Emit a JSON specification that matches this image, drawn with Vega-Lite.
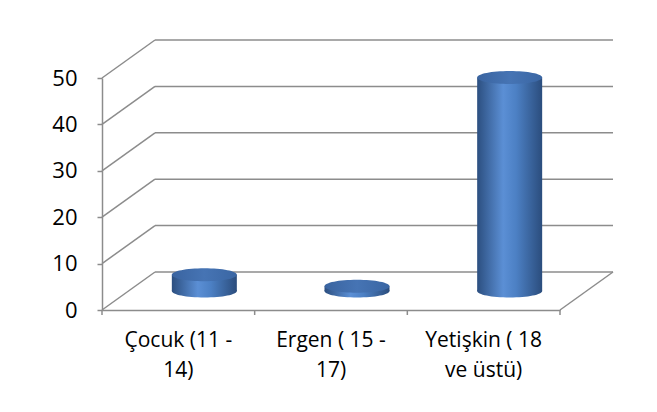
{
  "$schema": "https://vega.github.io/schema/vega-lite/v6.json",
  "width": 458,
  "height": 232,
  "autosize": "none",
  "padding": {"left": 102, "top": 78, "right": 97, "bottom": 102},
  "background": "white",
  "config": {"view": {"stroke": null}, "font": "Open Sans"},
  "data": {"values": [
    {"grup": "Çocuk (11 - 14)", "etiket": ["Çocuk (11 -", "14)"], "deger": 3.5},
    {"grup": "Ergen ( 15 - 17)", "etiket": ["Ergen ( 15 -", "17)"], "deger": 1},
    {"grup": "Yetişkin ( 18 ve üstü)", "etiket": ["Yetişkin ( 18", "ve üstü)"], "deger": 46}
  ]},
  "datasets": {"grid": [{"v": 0}, {"v": 10}, {"v": 20}, {"v": 30}, {"v": 40}, {"v": 50}]},
  "layer": [
    {
      "data": {"name": "grid"},
      "mark": {"type": "rule", "color": "#8c8c8c", "strokeWidth": 1.5, "x2Offset": 53, "y2Offset": -38},
      "encoding": {
        "x": {"value": 0}, "x2": {"value": 0},
        "y": {"field": "v", "type": "quantitative", "scale": {"domain": [0, 50]}},
        "y2": {"field": "v"}
      }
    },
    {
      "data": {"name": "grid"},
      "mark": {"type": "rule", "color": "#8c8c8c", "strokeWidth": 1.5, "xOffset": 53, "x2Offset": 53, "yOffset": -38},
      "encoding": {
        "x": {"value": 0}, "x2": {"value": "width"},
        "y": {"field": "v", "type": "quantitative"}
      }
    },
    {
      "data": {"values": [{"v": 0}]},
      "mark": {"type": "rule", "color": "#8c8c8c", "strokeWidth": 1.5, "x2Offset": 53, "y2Offset": -38},
      "encoding": {
        "x": {"value": "width"}, "x2": {"value": "width"},
        "y": {"field": "v", "type": "quantitative"},
        "y2": {"field": "v"}
      }
    },
    {
      "mark": {"type": "rule", "color": "#8c8c8c", "strokeWidth": 1.5, "y2Offset": 5},
      "encoding": {
        "x": {"field": "grup", "type": "nominal", "sort": null, "bandPosition": 0},
        "y": {"datum": 0, "type": "quantitative"},
        "y2": {"datum": 0}
      }
    },
    {
      "data": {"values": [{"v": 0}]},
      "mark": {"type": "rule", "color": "#8c8c8c", "strokeWidth": 1.5, "y2Offset": 5},
      "encoding": {
        "x": {"value": "width"},
        "y": {"field": "v", "type": "quantitative"},
        "y2": {"field": "v"}
      }
    },
    {
      "mark": {"type": "point", "filled": true, "opacity": 1, "size": 4225, "xOffset": 26, "yOffset": -19,
        "shape": "M-1,0A1,0.2 0 1,1 1,0A1,0.2 0 1,1 -1,0Z",
        "color": {"gradient": "linear", "x1": 0, "x2": 1, "y1": 0, "y2": 0,
          "stops": [{"offset": 0, "color": "#2c4f80"}, {"offset": 0.4, "color": "#5b8fd5"}, {"offset": 0.6, "color": "#4c80c4"}, {"offset": 1, "color": "#2b4d7d"}]}},
      "encoding": {
        "x": {"field": "grup", "type": "nominal", "sort": null},
        "y": {"datum": 0, "type": "quantitative"}
      }
    },
    {
      "mark": {"type": "bar", "width": 65, "xOffset": 26, "x2Offset": 26, "yOffset": -19, "y2Offset": -19,
        "color": {"gradient": "linear", "x1": 0, "x2": 1, "y1": 0, "y2": 0,
          "stops": [{"offset": 0, "color": "#2c4f80"}, {"offset": 0.4, "color": "#5b8fd5"}, {"offset": 0.6, "color": "#4c80c4"}, {"offset": 1, "color": "#2b4d7d"}]}},
      "encoding": {
        "x": {"field": "grup", "type": "nominal", "sort": null,
          "scale": {"paddingInner": 0, "paddingOuter": 0},
          "axis": {"title": null, "ticks": false, "labels": false, "domainColor": "#8c8c8c", "domainWidth": 1.5}},
        "y": {"field": "deger", "type": "quantitative",
          "axis": {"title": null, "grid": false, "values": [0, 10, 20, 30, 40, 50], "domainColor": "#8c8c8c", "domainWidth": 1.5,
            "tickColor": "#8c8c8c", "tickWidth": 1.5, "tickSize": 5, "labelFontSize": 22, "labelColor": "#000000", "labelPadding": 20}}
      }
    },
    {
      "mark": {"type": "point", "filled": true, "opacity": 1, "size": 4225, "xOffset": 26, "yOffset": -19,
        "shape": "M-1,0A1,0.2 0 1,1 1,0A1,0.2 0 1,1 -1,0Z",
        "color": {"gradient": "linear", "x1": 0, "x2": 1, "y1": 0, "y2": 0,
          "stops": [{"offset": 0, "color": "#3a64a0"}, {"offset": 0.5, "color": "#4674b4"}, {"offset": 1, "color": "#3a66a3"}]}},
      "encoding": {
        "x": {"field": "grup", "type": "nominal", "sort": null},
        "y": {"field": "deger", "type": "quantitative"}
      }
    },
    {
      "mark": {"type": "text", "fontSize": 21, "color": "#000000", "align": "center", "baseline": "top", "dy": 20, "lineHeight": 30},
      "encoding": {
        "x": {"field": "grup", "type": "nominal", "sort": null},
        "y": {"datum": 0, "type": "quantitative"},
        "text": {"field": "etiket"}
      }
    }
  ]
}
